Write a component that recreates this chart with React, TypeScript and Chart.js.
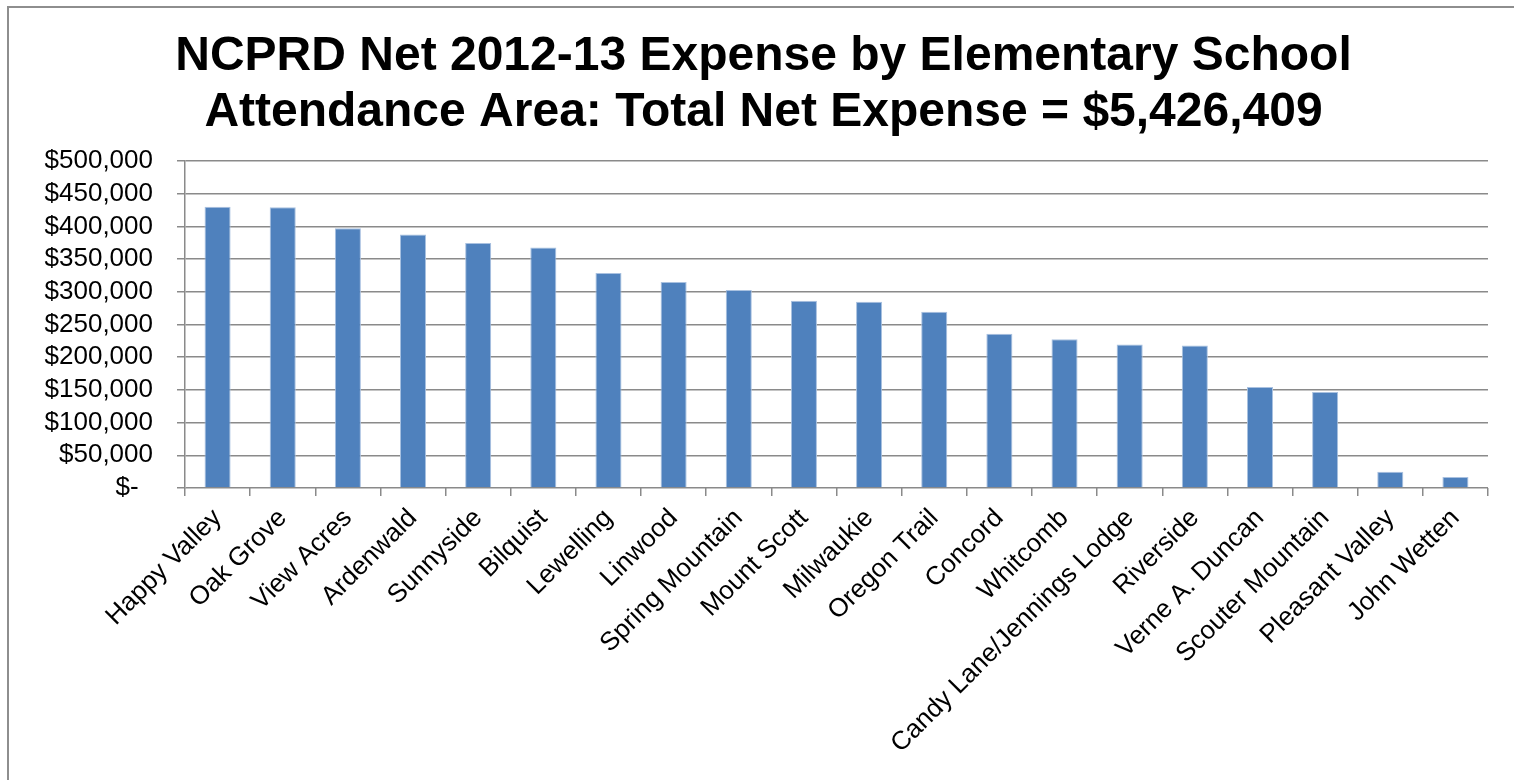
import React, { useEffect, useRef } from "react";
import { Chart, registerables } from "chart.js";

Chart.register(...registerables);

const schools: string[] = [
  "Happy Valley",
  "Oak Grove",
  "View Acres",
  "Ardenwald",
  "Sunnyside",
  "Bilquist",
  "Lewelling",
  "Linwood",
  "Spring Mountain",
  "Mount Scott",
  "Milwaukie",
  "Oregon Trail",
  "Concord",
  "Whitcomb",
  "Candy Lane/Jennings Lodge",
  "Riverside",
  "Verne A. Duncan",
  "Scouter Mountain",
  "Pleasant Valley",
  "John Wetten",
];

const netExpense: number[] = [
  430000, 429100, 397000, 387800, 374500, 367900, 328600, 314800, 302600,
  286200, 284700, 269400, 235700, 227600, 219400, 217900, 154600, 146900,
  25000, 16800,
];

const titleLines: string[] = [
  "NCPRD Net 2012-13 Expense by Elementary School",
  "Attendance Area: Total Net Expense = $5,426,409",
];

const yMin = 0;
const yMax = 500000;
const yStep = 50000;

const FONT = "Arial, 'Liberation Sans', Helvetica, sans-serif";

function formatMoney(v: number): string {
  if (v === 0) return "$-  ";
  return "$" + v.toLocaleString("en-US");
}

export default function App() {
  const canvasRef = useRef<HTMLCanvasElement | null>(null);

  useEffect(() => {
    const canvas = canvasRef.current;
    if (!canvas) return;
    const chart = new Chart(canvas, {
      type: "bar",
      data: {
        labels: schools,
        datasets: [
          {
            label: "Net Expense",
            data: netExpense,
            backgroundColor: "#4F81BD",
            borderColor: "#A9C1E0",
            borderWidth: 1,
            barPercentage: 0.4,
            categoryPercentage: 1,
          },
        ],
      },
      options: {
        animation: false,
        responsive: false,
        maintainAspectRatio: false,
        layout: { padding: { left: 39, right: 26, top: 0, bottom: 0 } },
        plugins: {
          legend: { display: false },
          tooltip: { enabled: false },
          title: {
            display: true,
            text: titleLines,
            color: "#000000",
            font: { family: FONT, size: 48, weight: "bold", lineHeight: 56 / 48 },
            padding: { top: 29, bottom: 20 },
          },
        },
        scales: {
          x: {
            type: "category",
            grid: {
              display: true,
              drawOnChartArea: false,
              drawTicks: true,
              tickLength: 8,
              offset: true,
              color: "#8a8a8a",
              lineWidth: 1.5,
            },
            border: { display: false },
            ticks: {
              autoSkip: false,
              maxRotation: 45,
              minRotation: 45,
              padding: 7,
              color: "#000000",
              font: { family: FONT, size: 26 },
            },
            afterFit: (scale: any) => {
              scale.height = 292;
            },
          },
          y: {
            min: yMin,
            max: yMax,
            grid: {
              display: true,
              drawOnChartArea: true,
              drawTicks: true,
              tickLength: 8,
              color: "#8a8a8a",
              lineWidth: 1.5,
            },
            border: { display: true, color: "#8a8a8a", width: 1.5 },
            ticks: {
              autoSkip: false,
              stepSize: yStep,
              padding: 24,
              color: "#000000",
              font: { family: FONT, size: 26 },
              callback: (v: any) => formatMoney(Number(v)),
            },
            afterFit: (scale: any) => {
              scale.width = 146;
            },
          },
        },
      },
    });
    return () => chart.destroy();
  }, []);

  return (
    <div
      style={{
        position: "absolute",
        left: 0,
        top: 0,
        width: 1514,
        height: 780,
        overflow: "hidden",
        background: "#ffffff",
      }}
    >
      <div
        style={{
          position: "absolute",
          left: 7,
          top: 6,
          width: 1540,
          height: 820,
          border: "2px solid #8e8e8e",
          boxSizing: "border-box",
        }}
      />
      <canvas
        ref={canvasRef}
        width={1514}
        height={780}
        style={{ position: "absolute", left: 0, top: 0, width: 1514, height: 780 }}
      />
    </div>
  );
}
